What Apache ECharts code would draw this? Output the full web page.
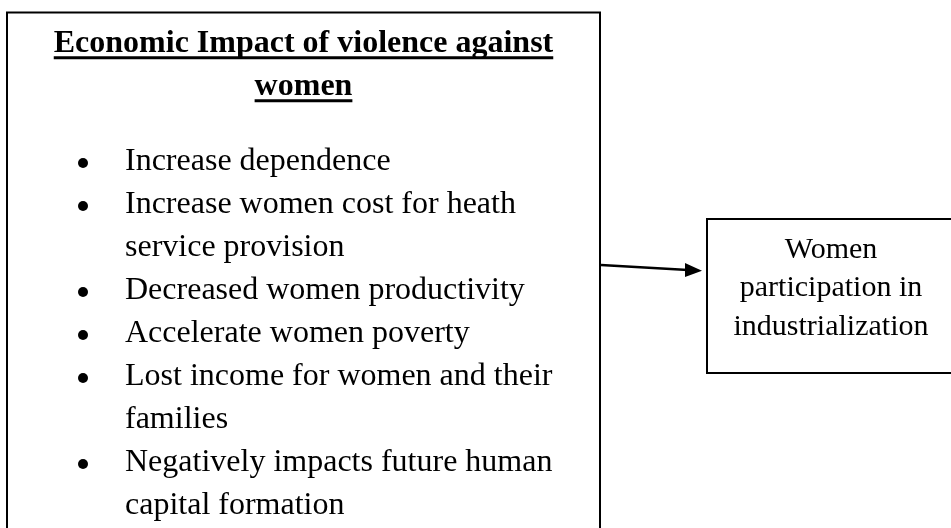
<!DOCTYPE html>
<html>
<head>
<meta charset="utf-8">
<script src="https://cdn.jsdelivr.net/npm/echarts@6/dist/echarts.min.js"></script>
<style>
html,body{margin:0;padding:0;background:#fff;}
#main{width:951px;height:528px;}
</style>
</head>
<body>
<div id="main"></div>
<script>
// Content
var titleLines = ['Economic Impact of violence against', 'women'];
var bulletItems = [
  ['Increase dependence'],
  ['Increase women cost for heath', 'service provision'],
  ['Decreased women productivity'],
  ['Accelerate women poverty'],
  ['Lost income for women and their', 'families'],
  ['Negatively impacts future human', 'capital formation']
];
var targetLines = ['Women', 'participation in', 'industrialization'];

var FONT = '"Liberation Serif", "Times New Roman", serif';
var measureCtx = document.createElement('canvas').getContext('2d');
function textWidth(t, font) { measureCtx.font = font; return measureCtx.measureText(t).width; }

var chart = echarts.init(document.getElementById('main'), null, {renderer: 'canvas'});
var g = [];

// Left box (bottom edge lies beyond the view)
var L = {x: 7, y: 12.5, w: 593, h: 560};
g.push({type: 'rect', shape: {x: L.x, y: L.y, width: L.w, height: L.h},
  style: {fill: '#fff', stroke: '#000', lineWidth: 2}});

// Title with underline (baseline-driven)
var titleFont = 'bold 32px ' + FONT;
var cx = L.x + L.w / 2;
titleLines.forEach(function (t, i) {
  var baseline = 53.5 + i * 43;
  g.push({type: 'text', style: {x: cx, y: baseline - 9.8, text: t, font: titleFont,
    textAlign: 'center', textVerticalAlign: 'middle', fill: '#000'}, z: 5});
  var w = textWidth(t, titleFont);
  g.push({type: 'rect', shape: {x: cx - w / 2, y: baseline + 2.7, width: w, height: 3},
    style: {fill: '#000'}, z: 5});
});

// Bullet list
var itemFont = '32px ' + FONT;
var lineIdx = 0;
bulletItems.forEach(function (item) {
  item.forEach(function (t, j) {
    var baseline = 171 + lineIdx * 43;
    if (j === 0) {
      g.push({type: 'circle', shape: {cx: 83, cy: baseline - 8, r: 5}, style: {fill: '#000'}, z: 5});
    }
    g.push({type: 'text', style: {x: 125, y: baseline - 9.8, text: t, font: itemFont,
      textAlign: 'left', textVerticalAlign: 'middle', fill: '#000'}, z: 5});
    lineIdx++;
  });
});

// Right box (right edge lies beyond the view)
var R = {x: 707, y: 219, w: 300, h: 154};
g.push({type: 'rect', shape: {x: R.x, y: R.y, width: R.w, height: R.h},
  style: {fill: '#fff', stroke: '#000', lineWidth: 2}});
var targetFont = '30px ' + FONT;
targetLines.forEach(function (t, i) {
  var baseline = 259 + i * 38.8;
  g.push({type: 'text', style: {x: 831, y: baseline - 9.2, text: t, font: targetFont,
    textAlign: 'center', textVerticalAlign: 'middle', fill: '#000'}, z: 5});
});

// Arrow
g.push({type: 'line', shape: {x1: 601, y1: 265, x2: 688, y2: 270},
  style: {stroke: '#000', lineWidth: 2.5}, z: 6});
g.push({type: 'polygon', shape: {points: [[702, 270.7], [685, 263], [685, 277]]},
  style: {fill: '#000'}, z: 6});

chart.setOption({backgroundColor: '#fff', graphic: {elements: g}});
</script>
</body>
</html>
